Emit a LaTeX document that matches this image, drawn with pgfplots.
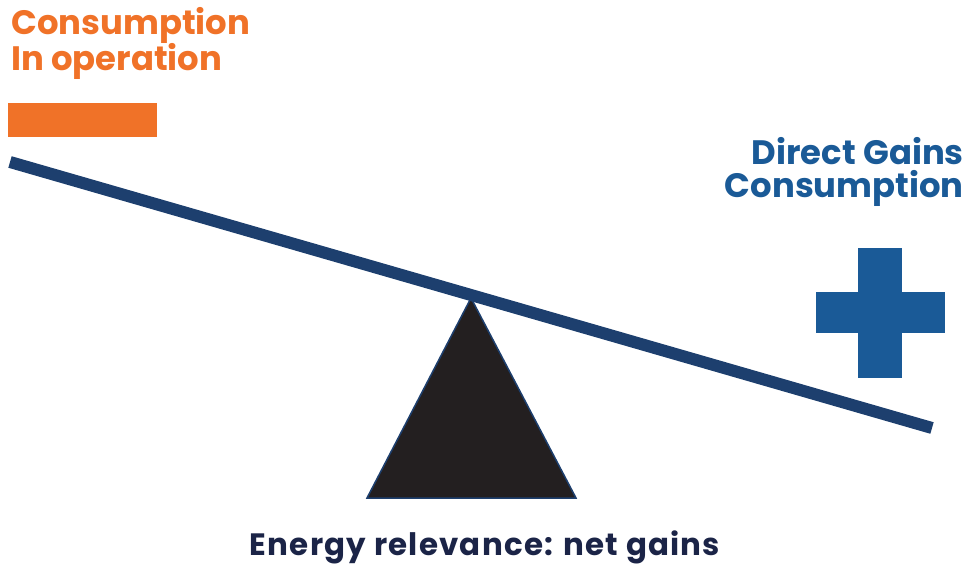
\documentclass[border=0pt]{standalone}
\usepackage{pgfplots}
\pgfplotsset{compat=1.18}
\usepackage{fontspec}
\setmainfont{Poppins}
\newfontfamily\bottomfont{Poppins}[LetterSpace=4]
\definecolor{orng}{HTML}{F07228}
\definecolor{blu}{HTML}{1A5A97}
\definecolor{beam}{HTML}{1D3F6E}
\definecolor{navytext}{HTML}{1B2447}
\definecolor{tri}{HTML}{231F20}
\begin{document}
\begin{tikzpicture}
\begin{axis}[width=970bp, height=564bp, scale only axis,
  xmin=0, xmax=970, ymin=0, ymax=564, axis lines=none, clip=false]
\path (rel axis cs:0,0) rectangle (rel axis cs:1,1);
% orange bar
\addplot[draw=none, fill=orng] coordinates {(8,461) (157,461) (157,427) (8,427)} --cycle;
% triangle fulcrum
\addplot[draw=beam, line width=1.5bp, fill=tri] coordinates {(471,266) (367,66) (576,66)} --cycle;
% beam
\addplot[beam, line width=12bp] coordinates {(10,402) (932,136)};
% plus sign
\addplot[draw=none, fill=blu] coordinates {(858,316) (902,316) (902,186) (858,186)} --cycle;
\addplot[draw=none, fill=blu] coordinates {(816,272) (945,272) (945,231) (816,231)} --cycle;
% texts
\node[anchor=base west, inner sep=0, text=orng, font=\bfseries\fontsize{34}{36}\selectfont] at (axis cs:11,529) {Consumption};
\node[anchor=base west, inner sep=0, text=orng, font=\bfseries\fontsize{34}{36}\selectfont] at (axis cs:11,493) {In operation};
\node[anchor=base east, inner sep=0, text=blu, font=\bfseries\fontsize{34}{36}\selectfont] at (axis cs:964,399) {Direct Gains};
\node[anchor=base east, inner sep=0, text=blu, font=\bfseries\fontsize{34}{36}\selectfont] at (axis cs:964,366) {Consumption};
\node[anchor=base, inner sep=0, text=navytext, font=\bottomfont\bfseries\fontsize{31}{33}\selectfont] at (axis cs:485,9) {Energy relevance: net gains};
\end{axis}
\end{tikzpicture}
\end{document}
